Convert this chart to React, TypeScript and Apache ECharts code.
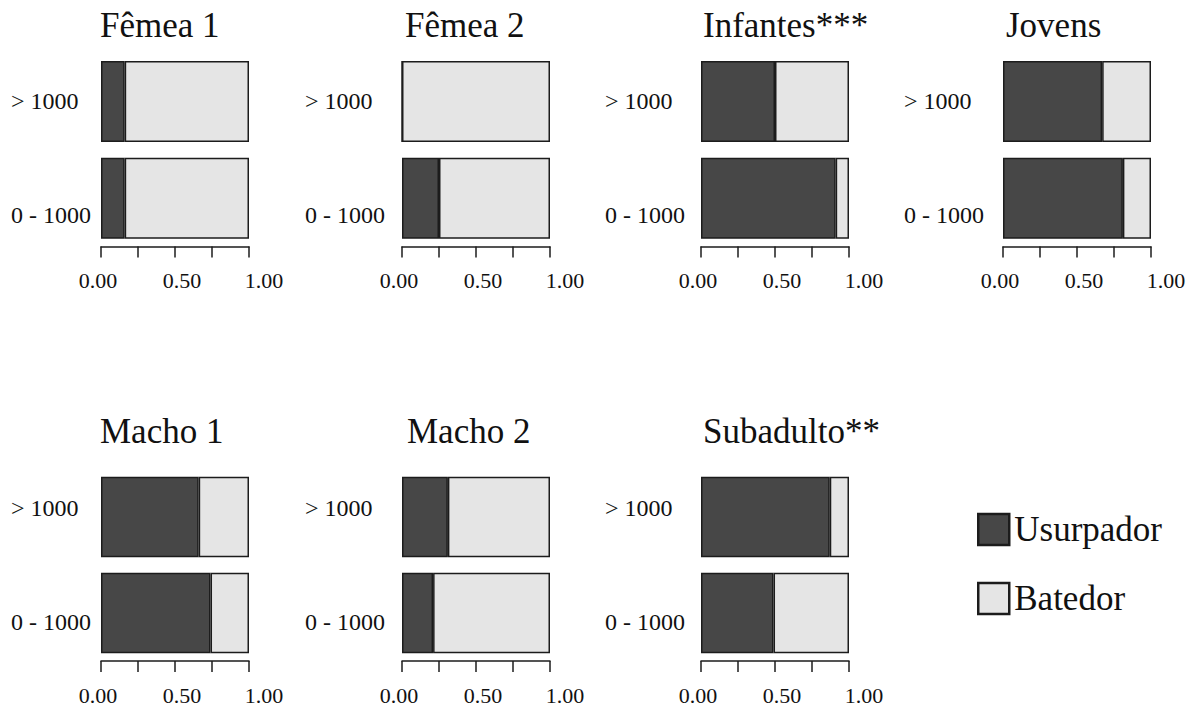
import React, { useEffect, useRef } from 'react';
import * as echarts from 'echarts';

// ---- data ----
const panelTitles = ['Fêmea 1', 'Fêmea 2', 'Infantes***', 'Jovens', 'Macho 1', 'Macho 2', 'Subadulto**'];
const categories = ['0 - 1000', '> 1000'];
const seriesNames = ['Usurpador', 'Batedor'];
// proportions for the "0 - 1000" category, per panel
const usurpadorLow = [0.16, 0.25, 0.91, 0.81, 0.74, 0.21, 0.49];
const batedorLow = [0.84, 0.75, 0.09, 0.19, 0.26, 0.79, 0.51];
// proportions for the "> 1000" category, per panel
const usurpadorHigh = [0.16, 0.0, 0.5, 0.67, 0.66, 0.31, 0.87];
const batedorHigh = [0.84, 1.0, 0.5, 0.33, 0.34, 0.69, 0.13];
const xTickValues = [0, 0.5, 1];
const xTickLabels = ['0.00', '0.50', '1.00'];

const FONT = 'Liberation Serif';
const DARK = '#474747';
const LIGHT = '#e5e5e5';
const EDGE = '#1c1c1c';
const INK = '#111111';

export default function App() {
  const ref = useRef<HTMLDivElement>(null);

  useEffect(() => {
    if (!ref.current) return;
    const chart = echarts.init(ref.current, null, { renderer: 'svg' });

    const lefts = [101, 402, 701, 1003, 101, 402, 701];
    const labelX = [11, 305, 605, 904, 11, 305, 605];
    const titleX = [100, 405, 703, 1006, 100, 407, 703];
    const rowTop = [53, 469];
    const rowHeight = [193.5, 192];
    const titleTop = [8, 414];
    const gridWidth = 148;

    const grids: any[] = [];
    const xAxes: any[] = [];
    const yAxes: any[] = [];
    const series: any[] = [];
    const titles: any[] = [];

    panelTitles.forEach((name, i) => {
      const row = i < 4 ? 0 : 1;
      grids.push({ left: lefts[i], top: rowTop[row], width: gridWidth, height: rowHeight[row] });
      titles.push({
        text: name,
        left: titleX[i],
        top: titleTop[row],
        padding: 0,
        textStyle: { fontFamily: FONT, fontSize: 35, fontWeight: 'normal', color: INK },
      });
      xAxes.push({
        type: 'value',
        gridIndex: i,
        min: 0,
        max: 1,
        interval: 0.25,
        axisLine: { show: true, lineStyle: { color: EDGE, width: 1.5 } },
        axisTick: { show: true, length: 11, lineStyle: { color: EDGE, width: 1.5 } },
        splitLine: { show: false },
        axisLabel: {
          margin: 23,
          formatter: (v: number) => {
            const k = xTickValues.indexOf(v);
            if (k < 0) return '';
            return `{t${k}|${xTickLabels[k]}}`;
          },
          rich: {
            t0: { fontFamily: FONT, fontSize: 22, color: INK, padding: [0, 6, 0, 0] },
            t1: { fontFamily: FONT, fontSize: 22, color: INK, padding: [0, 0, 0, 14] },
            t2: { fontFamily: FONT, fontSize: 22, color: INK, padding: [0, 0, 0, 30] },
          },
        },
      });
      const richY =
        row === 0
          ? {
              lo: { fontFamily: FONT, fontSize: 24, color: INK, padding: [34, 0, 0, 0] },
              hi: { fontFamily: FONT, fontSize: 24, color: INK, padding: [0, 0, 0, 0] },
            }
          : {
              lo: { fontFamily: FONT, fontSize: 24, color: INK, padding: [18, 0, 0, 0] },
              hi: { fontFamily: FONT, fontSize: 24, color: INK, padding: [0, 0, 18, 0] },
            };
      yAxes.push({
        type: 'category',
        gridIndex: i,
        data: categories,
        axisLine: { show: false },
        axisTick: { show: false },
        axisLabel: {
          align: 'left',
          margin: lefts[i] - labelX[i],
          formatter: (v: string) => (v === categories[0] ? `{lo|${v}}` : `{hi|${v}}`),
          rich: richY,
        },
      });
      const barW = row === 0 ? 81 : 80.5;
      series.push({
        name: seriesNames[0],
        type: 'bar',
        stack: 'p' + i,
        xAxisIndex: i,
        yAxisIndex: i,
        barWidth: barW,
        data: [usurpadorLow[i], usurpadorHigh[i]],
        itemStyle: { color: DARK, borderColor: EDGE, borderWidth: 1.5 },
      });
      series.push({
        name: seriesNames[1],
        type: 'bar',
        stack: 'p' + i,
        xAxisIndex: i,
        yAxisIndex: i,
        barWidth: barW,
        data: [batedorLow[i], batedorHigh[i]],
        itemStyle: { color: LIGHT, borderColor: EDGE, borderWidth: 1.5 },
      });
    });

    chart.setOption({
      animation: false,
      backgroundColor: '#ffffff',
      textStyle: { fontFamily: FONT },
      title: titles,
      legend: {
        data: seriesNames,
        orient: 'vertical',
        left: 977,
        top: 512,
        padding: 0,
        itemWidth: 31,
        itemHeight: 31,
        itemGap: 34,
        icon: 'rect',
        selectedMode: false,
        itemStyle: { borderColor: EDGE, borderWidth: 2.5 },
        textStyle: { fontFamily: FONT, fontSize: 35, color: INK, lineHeight: 31 },
      },
      grid: grids,
      xAxis: xAxes,
      yAxis: yAxes,
      series,
    });

    return () => chart.dispose();
  }, []);

  return (
    <div
      ref={ref}
      style={{ position: 'fixed', left: 0, top: 0, width: 1194, height: 711, background: '#fff' }}
    />
  );
}
